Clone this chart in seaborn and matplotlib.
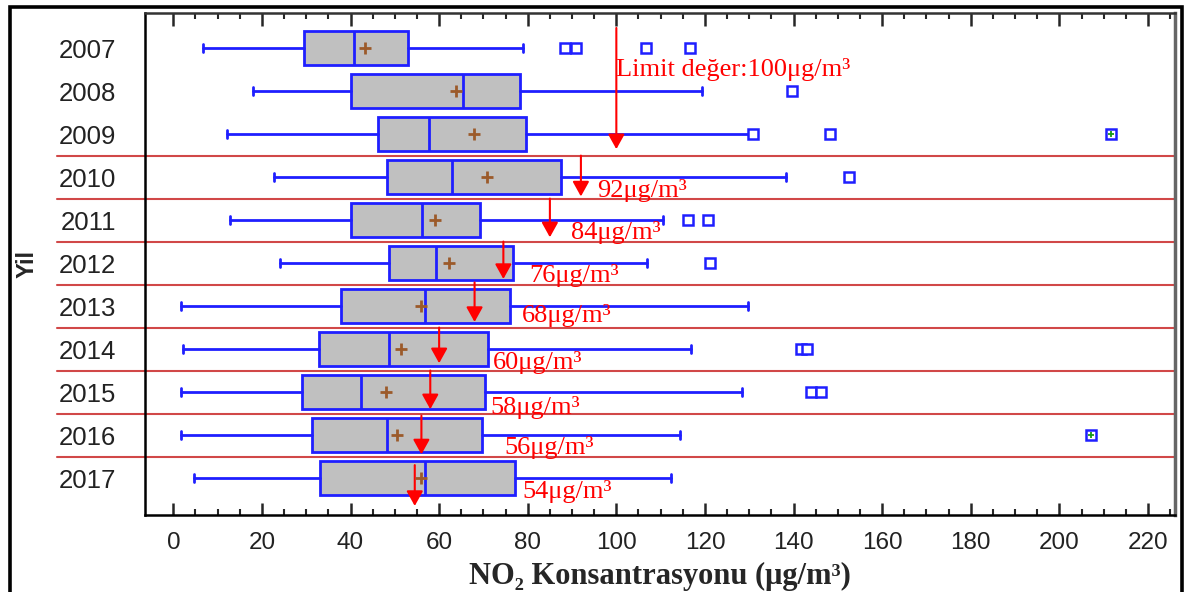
import pandas as pd
import seaborn as sns
import matplotlib.pyplot as plt
import matplotlib.transforms as mtransforms
from matplotlib.patches import Rectangle

# yillara gore NO2 kutu grafigi degerleri
yillar = ["2007", "2008", "2009", "2010", "2011", "2012", "2013", "2014", "2015", "2016", "2017"]
alt_biyik = [6.6, 17.9, 12.1, 22.8, 12.9, 24.0, 1.7, 2.2, 1.7, 1.7, 4.7]
q1 = [29.5, 40.0, 46.2, 48.3, 40.0, 48.7, 37.9, 32.8, 29.1, 31.4, 33.2]
medyan = [40.7, 65.3, 57.8, 62.8, 56.1, 59.3, 56.7, 48.7, 42.3, 48.3, 56.9]
ortalama = [43.2, 63.9, 67.8, 70.8, 59.1, 62.3, 55.8, 51.5, 48.1, 50.5, 55.8]
q3 = [53.0, 78.3, 79.6, 87.6, 69.2, 76.6, 76.0, 71.0, 70.3, 69.7, 77.2]
ust_biyik = [79.0, 119.4, 130.5, 138.3, 110.6, 106.9, 129.8, 116.9, 128.3, 114.4, 112.4]
aykiri = [[88.5, 90.8, 106.8, 116.7], [139.6], [130.8, 148.3, 211.7], [152.5],
          [116.1, 120.6], [121.1], [], [141.6, 143.0], [144.0, 146.3], [207.2], []]
uc_aykiri_yil = ["2009", "2016"]
uc_aykiri = [211.7, 207.2]

# limit degerleri
limit_deger = [100, 92, 85, 74.5, 68, 60, 58, 56, 54.5]
limit_etiket = ["Limit değer:100μg/m³", "92μg/m³", "84μg/m³", "76μg/m³", "68μg/m³",
                "60μg/m³", "58μg/m³", "56μg/m³", "54μg/m³"]

# ok ve etiket yerlesimi (satir indeksi cinsinden)
ok_bas = [-0.47, 2.5, 3.5, 4.5, 5.45, 6.5, 7.5, 8.55, 9.7]
ok_son = [2.35, 3.45, 4.4, 5.37, 6.37, 7.33, 8.4, 9.45, 10.65]
etiket_x = [100, 95.6, 89.8, 80.4, 78.7, 72.2, 71.6, 74.8, 78.7]
etiket_y = [0.50, 3.31, 4.28, 5.30, 6.22, 7.32, 8.35, 9.30, 10.32]
ayirici = [2.5, 3.5, 4.5, 5.5, 6.5, 7.5, 8.5, 9.5]

sns.set_style("white")
plt.rcParams['font.family'] = ['Liberation Sans', 'DejaVu Sans']

mavi = "#1f1fff"
serif = ['Liberation Serif', 'DejaVu Serif']

fig = plt.figure(figsize=(11.86, 5.92), dpi=100)
ax = fig.add_axes([0.1226, 0.1301, 0.8685, 0.8474])

poz = list(range(len(yillar)))
istat = []
for i in poz:
    istat.append({"label": yillar[i], "whislo": alt_biyik[i], "q1": q1[i], "med": medyan[i],
                  "q3": q3[i], "whishi": ust_biyik[i], "fliers": aykiri[i], "mean": ortalama[i]})

ax.bxp(istat, positions=poz, orientation="horizontal", widths=0.8, capwidths=0.17,
       patch_artist=True, showmeans=False,
       boxprops=dict(facecolor="#c0c0c0", edgecolor=mavi, linewidth=2),
       medianprops=dict(color=mavi, linewidth=2),
       whiskerprops=dict(color=mavi, linewidth=2),
       capprops=dict(color=mavi, linewidth=2),
       flierprops=dict(marker="s", markerfacecolor="white", markeredgecolor=mavi,
                       markersize=7, markeredgewidth=1.8))

# ortalamalar
ort_df = pd.DataFrame({"yil": poz, "ort": ortalama})
sns.scatterplot(data=ort_df, x="ort", y="yil", marker="+", s=70, color="#9c5a2a",
                linewidth=2, ax=ax, zorder=5)

# uc aykiri degerler
uc_df = pd.DataFrame({"yil": [yillar.index(y) for y in uc_aykiri_yil], "deger": uc_aykiri})
sns.scatterplot(data=uc_df, x="deger", y="yil", marker="+", s=22, color="#1a9a1a",
                linewidth=1.3, ax=ax, zorder=6)

# kirmizi ayirici cizgiler
trans = mtransforms.blended_transform_factory(ax.transAxes, ax.transData)
for yy in ayirici:
    ax.plot([-0.086, 1.0], [yy, yy], color="#d14848", lw=1.5, transform=trans, clip_on=False)

# limit oklari ve etiketleri
for i in range(len(limit_deger)):
    ax.annotate("", xy=(limit_deger[i], ok_son[i]), xytext=(limit_deger[i], ok_bas[i]),
                arrowprops=dict(arrowstyle="-|>,head_length=0.9,head_width=0.5",
                                color="red", lw=1.5, mutation_scale=10, shrinkA=0, shrinkB=0))
    ax.text(etiket_x[i], etiket_y[i], limit_etiket[i], color="red", fontsize=19,
            family=serif, ha="left", va="center")

ax.set_xlim(-6.3, 226.2)
ax.set_ylim(10.86, -0.81)
ax.set_xticks(range(0, 221, 20))
ax.set_xticks(range(0, 226, 5), minor=True)
ax.set_yticks(poz)
ax.set_yticklabels(yillar)
ax.tick_params(axis="x", which="major", direction="in", length=9, width=1.8, top=True,
               bottom=True, labelsize=17.5, pad=12, labelcolor="#222222")
ax.tick_params(axis="x", which="minor", direction="in", length=4, width=1.5, top=True, bottom=True)
ax.tick_params(axis="y", length=0, labelsize=18.5, pad=21, labelcolor="#222222")

for s in ["left", "bottom"]:
    ax.spines[s].set_color("black")
    ax.spines[s].set_linewidth(1.8)
ax.spines["top"].set_color("#333333")
ax.spines["top"].set_linewidth(1.8)
ax.spines["right"].set_color("#666666")
ax.spines["right"].set_linewidth(2.5)

ax.set_xlabel("NO₂ Konsantrasyonu (μg/m³)", fontsize=22, fontweight="bold", family=serif)
ax.set_ylabel("Yil", fontsize=17, fontweight="bold")
ax.yaxis.set_label_coords(-0.104, 0.5)
ax.xaxis.set_label_coords(0.5, -0.094)

# dis cerceve
fig.patches.append(Rectangle((10 / 1186, -0.05), 1172 / 1186, 1.05 - 7 / 592,
                             transform=fig.transFigure, fill=False, edgecolor="black",
                             linewidth=2.6, clip_on=False))

fig.savefig("out.png", dpi=100)
